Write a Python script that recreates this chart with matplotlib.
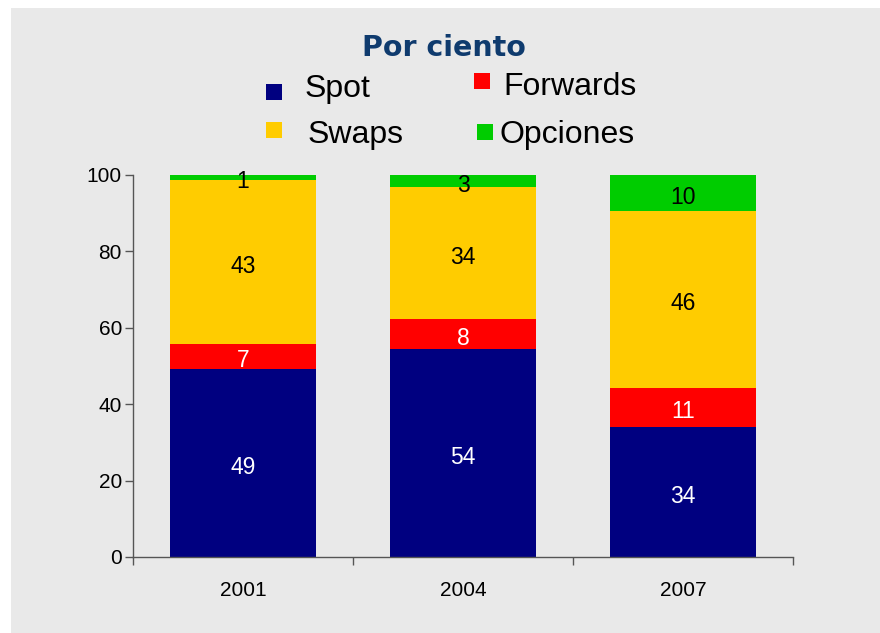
import matplotlib
matplotlib.use("Agg")
import matplotlib.pyplot as plt
from matplotlib.patches import Rectangle
import numpy as np

plt.rcParams['font.family'] = ['Liberation Sans', 'DejaVu Sans']

years = ["2001", "2004", "2007"]
series_names = ["Spot", "Forwards", "Swaps", "Opciones"]
spot = [49.2, 54.5, 34.1]
forwards = [6.6, 7.8, 10.2]
swaps = [42.8, 34.6, 46.3]
opciones = [1.4, 3.1, 9.4]
labels_spot = ["49", "54", "34"]
labels_forwards = ["7", "8", "11"]
labels_swaps = ["43", "34", "46"]
labels_opciones = ["1", "3", "10"]
yticks = [0, 20, 40, 60, 80, 100]

colors = ["#000080", "#FF0000", "#FFCC00", "#00CC00"]
text_colors = ["white", "white", "black", "black"]
bg = "#E9E9E9"
W, H = 880, 633

fig = plt.figure(figsize=(8.8, 6.33), dpi=100, facecolor="white")
fig.patches.append(Rectangle((11 / W, 0), 1, 1 - 8 / H, transform=fig.transFigure,
                             facecolor=bg, edgecolor="none", zorder=-10))

ax = fig.add_axes([133 / W, 1 - 557 / H, 660 / W, 382 / H])
ax.patch.set_alpha(0)

x = np.arange(len(years))
data = [spot, forwards, swaps, opciones]
labels = [labels_spot, labels_forwards, labels_swaps, labels_opciones]
bottom = np.zeros(len(years))
for vals, lab, col, tc, name in zip(data, labels, colors, text_colors, series_names):
    vals = np.array(vals)
    ax.bar(x, vals, bottom=bottom, width=0.664, color=col, edgecolor="none", label=name)
    for xi, bi, vi, li in zip(x, bottom, vals, lab):
        ax.annotate(li, (xi, bi + vi / 2), xytext=(0, -3), textcoords="offset points",
                    ha="center", va="center", color=tc, fontsize=16.5)
    bottom = bottom + vals

ax.set_xlim(-0.5, len(years) - 0.5)
ax.set_ylim(0, 100)
ax.set_yticks(yticks)
ax.set_yticklabels([str(v) for v in yticks], fontsize=15)
ax.set_xticks(x)
ax.set_xticklabels(years, fontsize=15)
ax.set_xticks(np.arange(len(years) + 1) - 0.5, minor=True)
ax.tick_params(axis="x", which="major", length=0, pad=17)
ax.tick_params(axis="x", which="minor", length=6, width=1, color="#555555", direction="out")
ax.tick_params(axis="y", length=6, width=1, color="#555555", direction="out", pad=2)
for s in ["top", "right"]:
    ax.spines[s].set_visible(False)
for s in ["left", "bottom"]:
    ax.spines[s].set_color("#555555")
    ax.spines[s].set_linewidth(1)

# Title
fig.text(444 / W, 1 - 56 / H, "Por ciento", ha="center", va="baseline",
         fontsize=20.5, fontweight="bold", color="#0F3B6E", family="DejaVu Sans")

# Legend (hand-placed like the reference)
leg_boxes = [(266, 84), (474, 73), (266, 122), (477, 124)]   # top-left of squares, px
leg_text = [(305, 97), (503, 95), (308, 143), (499, 143)]    # left, baseline, px
for (bx, by), (tx, ty), col, name in zip(leg_boxes, leg_text, colors, series_names):
    fig.patches.append(Rectangle((bx / W, 1 - (by + 16) / H), 16 / W, 16 / H,
                                 transform=fig.transFigure, facecolor=col, edgecolor="none"))
    fig.text(tx / W, 1 - ty / H, name, ha="left", va="baseline", fontsize=23, color="black")

fig.savefig("out.png", dpi=100, facecolor=fig.get_facecolor())
